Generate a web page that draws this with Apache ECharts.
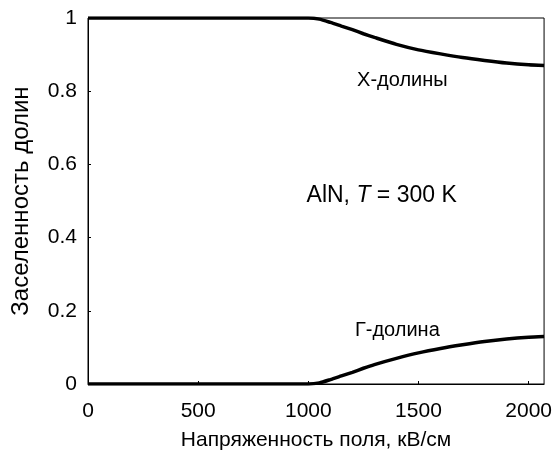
<!DOCTYPE html>
<html>
<head>
<meta charset="utf-8">
<script src="https://cdn.jsdelivr.net/npm/echarts@6/dist/echarts.min.js"></script>
<style>html,body{margin:0;padding:0;background:#fff}#c{width:555px;height:456px}</style>
</head>
<body>
<div id="c"></div>
<script>
const fields = [0, 500, 950, 1000, 1050, 1100, 1150, 1200, 1250, 1300, 1400, 1500, 1600, 1700, 1800, 1900, 2000, 2070];
const gammaValley = [0, 0, 0, 0, 0.003, 0.012, 0.022, 0.032, 0.043, 0.053, 0.07, 0.085, 0.097, 0.107, 0.116, 0.123, 0.128, 0.13];
const xValleys = [1, 1, 1, 1, 0.997, 0.988, 0.978, 0.968, 0.957, 0.947, 0.928, 0.913, 0.902, 0.892, 0.884, 0.877, 0.872, 0.87];
const xTicks = [0, 500, 1000, 1500, 2000];
const yTicks = [0, 0.2, 0.4, 0.6, 0.8, 1];
const labels = [
  {text: 'X-долины', x: 1427, y: 0.83},
  {text: 'Г-долина', x: 1404, y: 0.147}
];
const note = {x: 992, y: 0.515};

const FONT = '"Liberation Sans", Arial, sans-serif';
const chart = echarts.init(document.getElementById('c'), null, {renderer: 'canvas'});
const pairs = a => fields.map((f, i) => [f, a[i]]);
chart.setOption({
  animation: false,
  backgroundColor: '#fff',
  grid: {left: 88, right: 10, top: 18, bottom: 63, show: true, borderColor: '#000', borderWidth: 1},
  xAxis: {
    type: 'value', min: 0, max: 2070, interval: 500,
    name: 'Напряженность поля, кВ/см', nameLocation: 'middle', nameGap: 46,
    nameTextStyle: {fontFamily: FONT, fontSize: 21, color: '#000'},
    axisLine: {lineStyle: {color: '#000', width: 1}},
    axisTick: {show: true, inside: true, length: 3, lineStyle: {color: '#000'}},
    axisLabel: {fontFamily: FONT, fontSize: 21, color: '#000', margin: 17, showMaxLabel: false,
      formatter: v => xTicks.indexOf(v) >= 0 ? String(v) : ''},
    splitLine: {show: false}
  },
  yAxis: {
    type: 'value', min: 0, max: 1, interval: 0.2,
    name: 'Заселенность долин', nameLocation: 'middle', nameGap: 55,
    nameTextStyle: {fontFamily: FONT, fontSize: 24, color: '#000'},
    axisLine: {lineStyle: {color: '#000', width: 1}},
    axisTick: {show: true, inside: true, length: 3, lineStyle: {color: '#000'}},
    axisLabel: {fontFamily: FONT, fontSize: 21, color: '#000', margin: 11,
      formatter: v => { const t = yTicks.find(k => Math.abs(k - v) < 1e-9); return t === undefined ? '' : String(Math.round(t * 10) / 10); }},
    splitLine: {show: false}
  },
  series: [
    {type: 'line', data: pairs(xValleys), showSymbol: false, smooth: 0.2, lineStyle: {color: '#000', width: 3.5}, clip: true},
    {type: 'line', data: pairs(gammaValley), showSymbol: false, smooth: 0.2, lineStyle: {color: '#000', width: 3.5}, clip: true}
  ]
});

const graphics = labels.map(l => {
  const p = chart.convertToPixel({gridIndex: 0}, [l.x, l.y]);
  return {type: 'text', x: p[0], y: p[1], style: {text: l.text, fontFamily: FONT, fontSize: 20, fill: '#000', align: 'center', verticalAlign: 'middle'}};
});
const np = chart.convertToPixel({gridIndex: 0}, [note.x, note.y]);
graphics.push({type: 'text', x: np[0], y: np[1], style: {
  text: '{a|AlN, }{i|T}{a| = 300 K}',
  rich: {a: {fontFamily: FONT, fontSize: 23, fill: '#000'}, i: {fontFamily: FONT, fontSize: 23, fontStyle: 'italic', fill: '#000'}},
  align: 'left', verticalAlign: 'middle'}});
chart.setOption({graphic: graphics});
</script>
</body>
</html>
